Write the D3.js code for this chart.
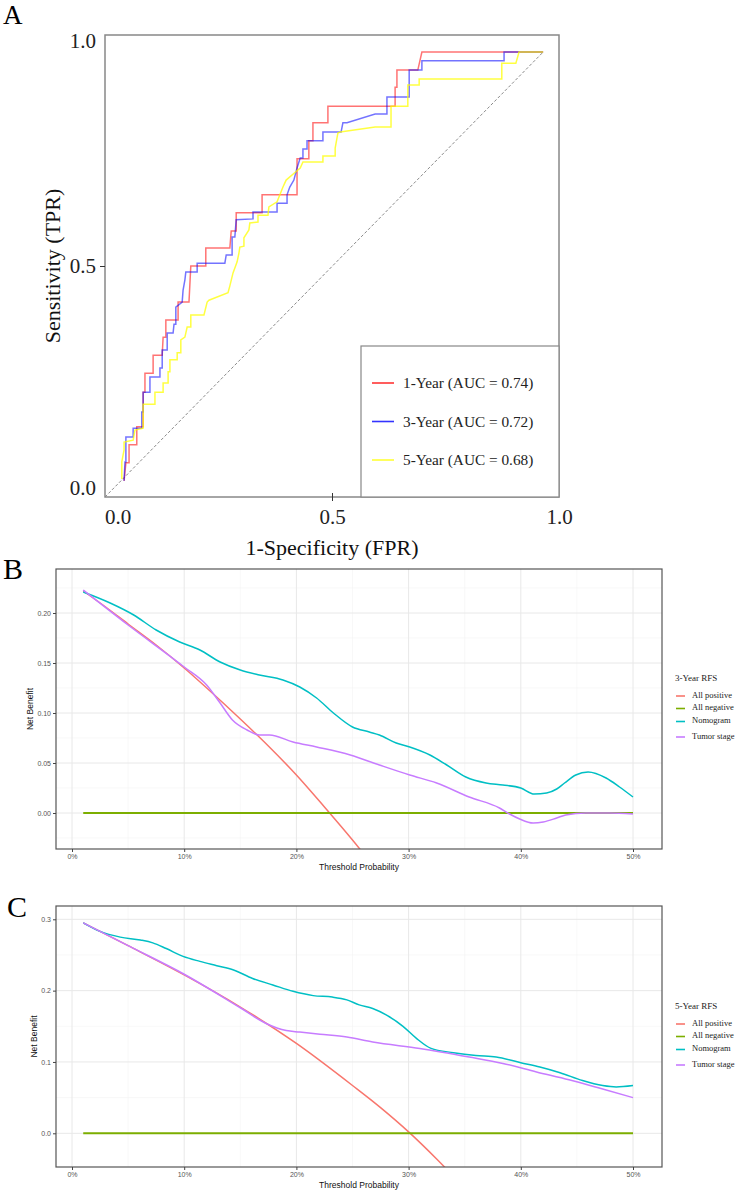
<!DOCTYPE html>
<html>
<head>
<meta charset="utf-8">
<script src="https://cdn.jsdelivr.net/npm/d3@7"></script>
<style>
  body { margin: 0; background: #fff; }
  svg { display: block; }
</style>
</head>
<body>
<svg id="chart" width="745" height="1191"></svg>
<script>
// ---- Panel A: ROC curves, points are [FPR, TPR] ----
const roc1Year = [[0.042,0.035],[0.046,0.074],[0.053,0.074],[0.053,0.113],[0.070,0.113],[0.070,0.152],[0.084,0.152],[0.084,0.227],[0.088,0.227],[0.088,0.268],[0.106,0.268],[0.106,0.307],[0.126,0.307],[0.128,0.346],[0.134,0.346],[0.134,0.383],[0.161,0.383],[0.161,0.422],[0.185,0.422],[0.189,0.500],[0.222,0.500],[0.222,0.539],[0.275,0.539],[0.278,0.576],[0.289,0.576],[0.289,0.615],[0.346,0.615],[0.346,0.654],[0.423,0.654],[0.423,0.732],[0.449,0.732],[0.449,0.771],[0.458,0.771],[0.458,0.810],[0.491,0.810],[0.491,0.846],[0.639,0.846],[0.639,0.887],[0.643,0.887],[0.643,0.924],[0.689,0.924],[0.698,0.963],[0.965,0.963]];
const roc3Year = [[0.042,0.035],[0.044,0.076],[0.046,0.076],[0.046,0.130],[0.062,0.130],[0.062,0.149],[0.081,0.149],[0.081,0.184],[0.084,0.184],[0.084,0.227],[0.099,0.227],[0.099,0.260],[0.121,0.260],[0.121,0.279],[0.126,0.279],[0.126,0.318],[0.137,0.318],[0.137,0.355],[0.150,0.355],[0.152,0.374],[0.156,0.374],[0.156,0.411],[0.170,0.422],[0.172,0.448],[0.176,0.470],[0.178,0.487],[0.203,0.487],[0.203,0.506],[0.264,0.506],[0.267,0.524],[0.280,0.524],[0.280,0.563],[0.286,0.563],[0.289,0.600],[0.326,0.602],[0.326,0.617],[0.379,0.617],[0.379,0.636],[0.401,0.636],[0.401,0.654],[0.407,0.671],[0.416,0.686],[0.423,0.712],[0.430,0.734],[0.436,0.734],[0.436,0.753],[0.445,0.753],[0.445,0.771],[0.480,0.771],[0.480,0.790],[0.520,0.790],[0.524,0.810],[0.533,0.810],[0.595,0.829],[0.621,0.829],[0.621,0.866],[0.670,0.866],[0.670,0.924],[0.698,0.924],[0.698,0.944],[0.879,0.944],[0.879,0.963],[0.965,0.963]];
const roc5Year = [[0.037,0.039],[0.037,0.076],[0.042,0.102],[0.042,0.119],[0.062,0.123],[0.066,0.145],[0.084,0.149],[0.084,0.201],[0.110,0.201],[0.110,0.227],[0.128,0.227],[0.128,0.247],[0.139,0.247],[0.139,0.271],[0.143,0.271],[0.143,0.297],[0.159,0.297],[0.159,0.312],[0.167,0.312],[0.167,0.340],[0.176,0.346],[0.181,0.368],[0.189,0.368],[0.189,0.394],[0.218,0.394],[0.225,0.422],[0.229,0.426],[0.271,0.442],[0.275,0.457],[0.282,0.485],[0.291,0.509],[0.295,0.528],[0.297,0.541],[0.306,0.543],[0.306,0.561],[0.317,0.578],[0.319,0.593],[0.337,0.595],[0.337,0.610],[0.359,0.610],[0.361,0.628],[0.379,0.639],[0.392,0.671],[0.399,0.686],[0.419,0.703],[0.430,0.712],[0.436,0.725],[0.480,0.725],[0.480,0.738],[0.507,0.738],[0.507,0.755],[0.513,0.788],[0.518,0.790],[0.595,0.801],[0.630,0.801],[0.630,0.846],[0.667,0.846],[0.667,0.892],[0.692,0.892],[0.692,0.905],[0.874,0.905],[0.874,0.939],[0.905,0.939],[0.912,0.963],[0.965,0.963]];
const rocLabels = ["1-Year (AUC = 0.74)", "3-Year (AUC = 0.72)", "5-Year (AUC = 0.68)"];
const rocColors = ["#ff0000", "#0000ff", "#ffff00"];
const rocTicks = [0, 0.5, 1];

// ---- Panels B and C: decision curves, points are [threshold, net benefit] ----
const dcaNames = ["All positive", "All negative", "Nomogram", "Tumor stage"];
const dcaColors = ["#F8766D", "#7CAE00", "#00BFC4", "#C77CFF"];
const dcaTicksX = [0, 0.1, 0.2, 0.3, 0.4, 0.5];

const b3AllPos = [[0.01,0.222],[0.03,0.206],[0.05,0.189],[0.075,0.168],[0.10,0.145],[0.125,0.120],[0.15,0.094],[0.175,0.067],[0.20,0.038],[0.225,0.006],[0.25,-0.027],[0.275,-0.062]];
const b3AllNeg = [[0.01,0],[0.50,0]];
const b3Nomogram = [[0.010,0.221],[0.034,0.210],[0.055,0.198],[0.075,0.183],[0.096,0.171],[0.114,0.163],[0.132,0.151],[0.150,0.143],[0.167,0.138],[0.188,0.133],[0.203,0.126],[0.218,0.115],[0.233,0.100],[0.250,0.086],[0.265,0.081],[0.274,0.078],[0.289,0.070],[0.301,0.066],[0.319,0.058],[0.334,0.048],[0.351,0.036],[0.369,0.030],[0.384,0.028],[0.400,0.025],[0.412,0.019],[0.423,0.020],[0.432,0.024],[0.439,0.030],[0.449,0.038],[0.460,0.041],[0.476,0.035],[0.488,0.026],[0.500,0.016]];
const b3Tumor = [[0.010,0.223],[0.05,0.188],[0.10,0.146],[0.120,0.128],[0.132,0.110],[0.143,0.093],[0.156,0.083],[0.167,0.078],[0.176,0.078],[0.197,0.071],[0.218,0.066],[0.248,0.058],[0.274,0.048],[0.301,0.038],[0.325,0.030],[0.354,0.016],[0.381,0.005],[0.390,-0.001],[0.399,-0.006],[0.411,-0.010],[0.420,-0.009],[0.432,-0.005],[0.440,-0.002],[0.458,0.000],[0.479,0.000],[0.500,-0.001]];

const c5AllPos = [[0.01,0.295],[0.05,0.263],[0.10,0.222],[0.15,0.177],[0.20,0.126],[0.25,0.067],[0.275,0.036],[0.30,0.002],[0.325,-0.036],[0.35,-0.077]];
const c5AllNeg = [[0.01,0],[0.50,0]];
const c5Nomogram = [[0.010,0.295],[0.025,0.283],[0.043,0.275],[0.061,0.271],[0.072,0.267],[0.084,0.259],[0.099,0.248],[0.114,0.241],[0.129,0.235],[0.144,0.229],[0.161,0.217],[0.179,0.208],[0.197,0.199],[0.215,0.193],[0.232,0.191],[0.245,0.187],[0.256,0.180],[0.268,0.175],[0.280,0.166],[0.295,0.150],[0.307,0.133],[0.320,0.119],[0.340,0.113],[0.360,0.109],[0.378,0.107],[0.400,0.099],[0.417,0.093],[0.435,0.085],[0.455,0.074],[0.473,0.067],[0.485,0.065],[0.500,0.067]];
const c5Tumor = [[0.010,0.295],[0.05,0.263],[0.10,0.223],[0.15,0.176],[0.173,0.154],[0.191,0.144],[0.203,0.142],[0.221,0.139],[0.245,0.135],[0.268,0.128],[0.310,0.119],[0.354,0.107],[0.384,0.098],[0.414,0.086],[0.443,0.075],[0.473,0.062],[0.500,0.050]];

const svg = d3.select("#chart");
const serif = "'Liberation Serif', 'Times New Roman', serif";
const sans = "'Liberation Sans', Arial, sans-serif";

// ================= Panel A =================
const xA = d3.scaleLinear().domain([0, 1]).range([105, 559]);
const yA = d3.scaleLinear().domain([0, 1]).range([497, 35]);
const gA = svg.append("g").style("font-family", serif);

gA.append("text").attr("x", 3).attr("y", 24).style("font-size", "27px").text("A");

const lastPt = roc1Year[roc1Year.length - 1];
gA.append("line")
  .attr("x1", xA(0)).attr("y1", yA(0))
  .attr("x2", xA(lastPt[0])).attr("y2", yA(lastPt[1]))
  .attr("stroke", "#8a8a8a").attr("stroke-width", 1)
  .attr("stroke-dasharray", "3,2");

const lineA = d3.line().x(d => xA(d[0])).y(d => yA(d[1]));
[roc1Year, roc3Year, roc5Year].forEach((s, i) => {
  gA.append("path")
    .attr("d", lineA(s))
    .attr("fill", "none")
    .attr("stroke", rocColors[i])
    .attr("stroke-opacity", i === 2 ? 0.75 : 0.55)
    .attr("stroke-width", 1.5);
});

// frame
gA.append("rect")
  .attr("x", xA(0)).attr("y", yA(1))
  .attr("width", xA(1) - xA(0)).attr("height", yA(0) - yA(1))
  .attr("fill", "none").attr("stroke", "#888").attr("stroke-width", 1.5);

// y axis
const axYA = gA.append("g").attr("transform", `translate(${xA(0)},0)`)
  .call(d3.axisLeft(yA).tickValues(rocTicks).tickFormat(d3.format(".1f")).tickSize(5).tickPadding(4));
axYA.select(".domain").remove();
axYA.selectAll(".tick line").attr("stroke", "#333").attr("opacity", d => d === 0.5 ? 1 : 0);
axYA.selectAll(".tick text")
  .style("font-family", serif).style("font-size", "21px").attr("fill", "#222")
  .attr("dy", d => d === 1 ? "0.6em" : d === 0 ? "-0.1em" : "0.32em");

// x axis
const axXA = gA.append("g").attr("transform", `translate(0,${yA(0)})`)
  .call(d3.axisBottom(xA).tickValues(rocTicks).tickFormat(d3.format(".1f")).tickSize(4).tickPadding(8));
axXA.select(".domain").remove();
axXA.selectAll(".tick line").attr("stroke", "#333").attr("y1", -4).attr("opacity", d => d === 0.5 ? 1 : 0);
axXA.selectAll(".tick text")
  .style("font-family", serif).style("font-size", "21px").attr("fill", "#222")
  .attr("dx", d => d === 0 ? "0.6em" : 0);

gA.append("text")
  .attr("transform", `translate(60,${yA(0.5)}) rotate(-90)`)
  .attr("text-anchor", "middle")
  .style("font-size", "22px").attr("fill", "#111")
  .text("Sensitivity (TPR)");
gA.append("text")
  .attr("x", xA(0.5)).attr("y", 555)
  .attr("text-anchor", "middle")
  .style("font-size", "22px").attr("fill", "#111")
  .text("1-Specificity (FPR)");

// legend
const legA = gA.append("g");
legA.append("rect").attr("x", 361).attr("y", 346).attr("width", 198).attr("height", 151)
  .attr("fill", "#fff").attr("stroke", "#888").attr("stroke-width", 1.2);
rocLabels.forEach((lab, i) => {
  const ly = 383 + i * 38.5;
  legA.append("line").attr("x1", 372).attr("x2", 394).attr("y1", ly).attr("y2", ly)
    .attr("stroke", rocColors[i]).attr("stroke-opacity", 0.8).attr("stroke-width", 1.6);
  legA.append("text").attr("x", 403).attr("y", ly).attr("dy", "0.35em")
    .style("font-size", "15.3px").attr("fill", "#222").text(lab);
});

// ================= Panels B and C =================
function drawDCA(o) {
  const g = svg.append("g");
  const x = d3.scaleLinear().domain([0, 0.5]).range([72, 633]);
  const y = d3.scaleLinear().domain([0, o.yTop]).range([o.y0, o.yTopPx]);
  const L = 56, R = 662, T = o.frameTop, B = o.frameBottom;

  g.append("text").attr("x", o.letterX).attr("y", o.letterY)
    .style("font-family", serif).style("font-size", "30px").text(o.letter);

  // grid
  const xMinor = d3.range(0.05, 0.5, 0.1);
  const grid = g.append("g");
  grid.selectAll(".xm").data(xMinor).join("line")
    .attr("x1", d => x(d)).attr("x2", d => x(d)).attr("y1", T).attr("y2", B)
    .attr("stroke", "#f3f3f3").attr("stroke-width", 0.6);
  grid.selectAll(".ym").data(o.yMinor).join("line")
    .attr("x1", L).attr("x2", R).attr("y1", d => y(d)).attr("y2", d => y(d))
    .attr("stroke", "#f3f3f3").attr("stroke-width", 0.6);
  grid.selectAll(".xg").data(dcaTicksX).join("line")
    .attr("x1", d => x(d)).attr("x2", d => x(d)).attr("y1", T).attr("y2", B)
    .attr("stroke", "#e8e8e8").attr("stroke-width", 1);
  grid.selectAll(".yg").data(o.yTicks).join("line")
    .attr("x1", L).attr("x2", R).attr("y1", d => y(d)).attr("y2", d => y(d))
    .attr("stroke", "#e8e8e8").attr("stroke-width", 1);

  // curves
  const clipId = "clip" + o.letter;
  g.append("clipPath").attr("id", clipId)
    .append("rect").attr("x", L).attr("y", T).attr("width", R - L).attr("height", B - T);
  const line = d3.line().x(d => x(d[0])).y(d => y(d[1])).curve(d3.curveMonotoneX);
  const curves = g.append("g").attr("clip-path", `url(#${clipId})`);
  o.series.forEach((s, i) => {
    curves.append("path").attr("d", line(s))
      .attr("fill", "none").attr("stroke", dcaColors[i])
      .attr("stroke-width", i === 1 ? 2 : 1.5);
  });

  // frame
  g.append("rect").attr("x", L).attr("y", T).attr("width", R - L).attr("height", B - T)
    .attr("fill", "none").attr("stroke", "#555").attr("stroke-width", 1.2);

  // axes
  const ax = g.append("g").attr("transform", `translate(0,${B})`)
    .call(d3.axisBottom(x).tickValues(dcaTicksX).tickFormat(d3.format(".0%")).tickSize(3).tickPadding(2));
  ax.select(".domain").remove();
  ax.selectAll(".tick line").attr("stroke", "#444");
  ax.selectAll(".tick text").style("font-family", sans).style("font-size", "7px").attr("fill", "#555");

  const ay = g.append("g").attr("transform", `translate(${L},0)`)
    .call(d3.axisLeft(y).tickValues(o.yTicks).tickFormat(d3.format(o.yFmt)).tickSize(3).tickPadding(2));
  ay.select(".domain").remove();
  ay.selectAll(".tick line").attr("stroke", "#444");
  ay.selectAll(".tick text").style("font-family", sans).style("font-size", "7px").attr("fill", "#555");

  g.append("text").attr("x", (L + R) / 2).attr("y", B + 21)
    .attr("text-anchor", "middle").style("font-family", sans).style("font-size", "8.5px")
    .attr("fill", "#111").text("Threshold Probability");
  g.append("text")
    .attr("transform", `translate(${o.yTitleX},${(T + B) / 2}) rotate(-90)`)
    .attr("text-anchor", "middle").style("font-family", sans).style("font-size", "8.5px")
    .attr("fill", "#111").text("Net Benefit");

  // legend
  const leg = g.append("g").style("font-family", serif);
  leg.append("text").attr("x", 675).attr("y", o.legendY).attr("dy", "0.35em")
    .style("font-size", "9px").attr("fill", "#222").text(o.legendTitle);
  const offs = [17, 29.5, 42.5, 58];
  dcaNames.forEach((n, i) => {
    const ly = o.legendY + offs[i];
    leg.append("line").attr("x1", 676).attr("x2", 685).attr("y1", ly + 1).attr("y2", ly + 1)
      .attr("stroke", dcaColors[i]).attr("stroke-width", 1.6);
    leg.append("text").attr("x", 692).attr("y", ly).attr("dy", "0.35em")
      .style("font-size", "8.5px").attr("fill", "#222").text(n);
  });
}

drawDCA({
  letter: "B", letterX: 3, letterY: 579,
  frameTop: 569, frameBottom: 849,
  yTop: 0.2, y0: 813, yTopPx: 613,
  yTicks: [0, 0.05, 0.10, 0.15, 0.20], yMinor: [-0.025, 0.025, 0.075, 0.125, 0.175, 0.225],
  yFmt: ".2f", yTitleX: 33,
  series: [b3AllPos, b3AllNeg, b3Nomogram, b3Tumor],
  legendTitle: "3-Year RFS", legendY: 678
});

drawDCA({
  letter: "C", letterX: 7, letterY: 917,
  frameTop: 906, frameBottom: 1167,
  yTop: 0.3, y0: 1133.3, yTopPx: 919.3,
  yTicks: [0, 0.1, 0.2, 0.3], yMinor: [0.05, 0.15, 0.25],
  yFmt: ".1f", yTitleX: 37,
  series: [c5AllPos, c5AllNeg, c5Nomogram, c5Tumor],
  legendTitle: "5-Year RFS", legendY: 1006
});
</script>
</body>
</html>
